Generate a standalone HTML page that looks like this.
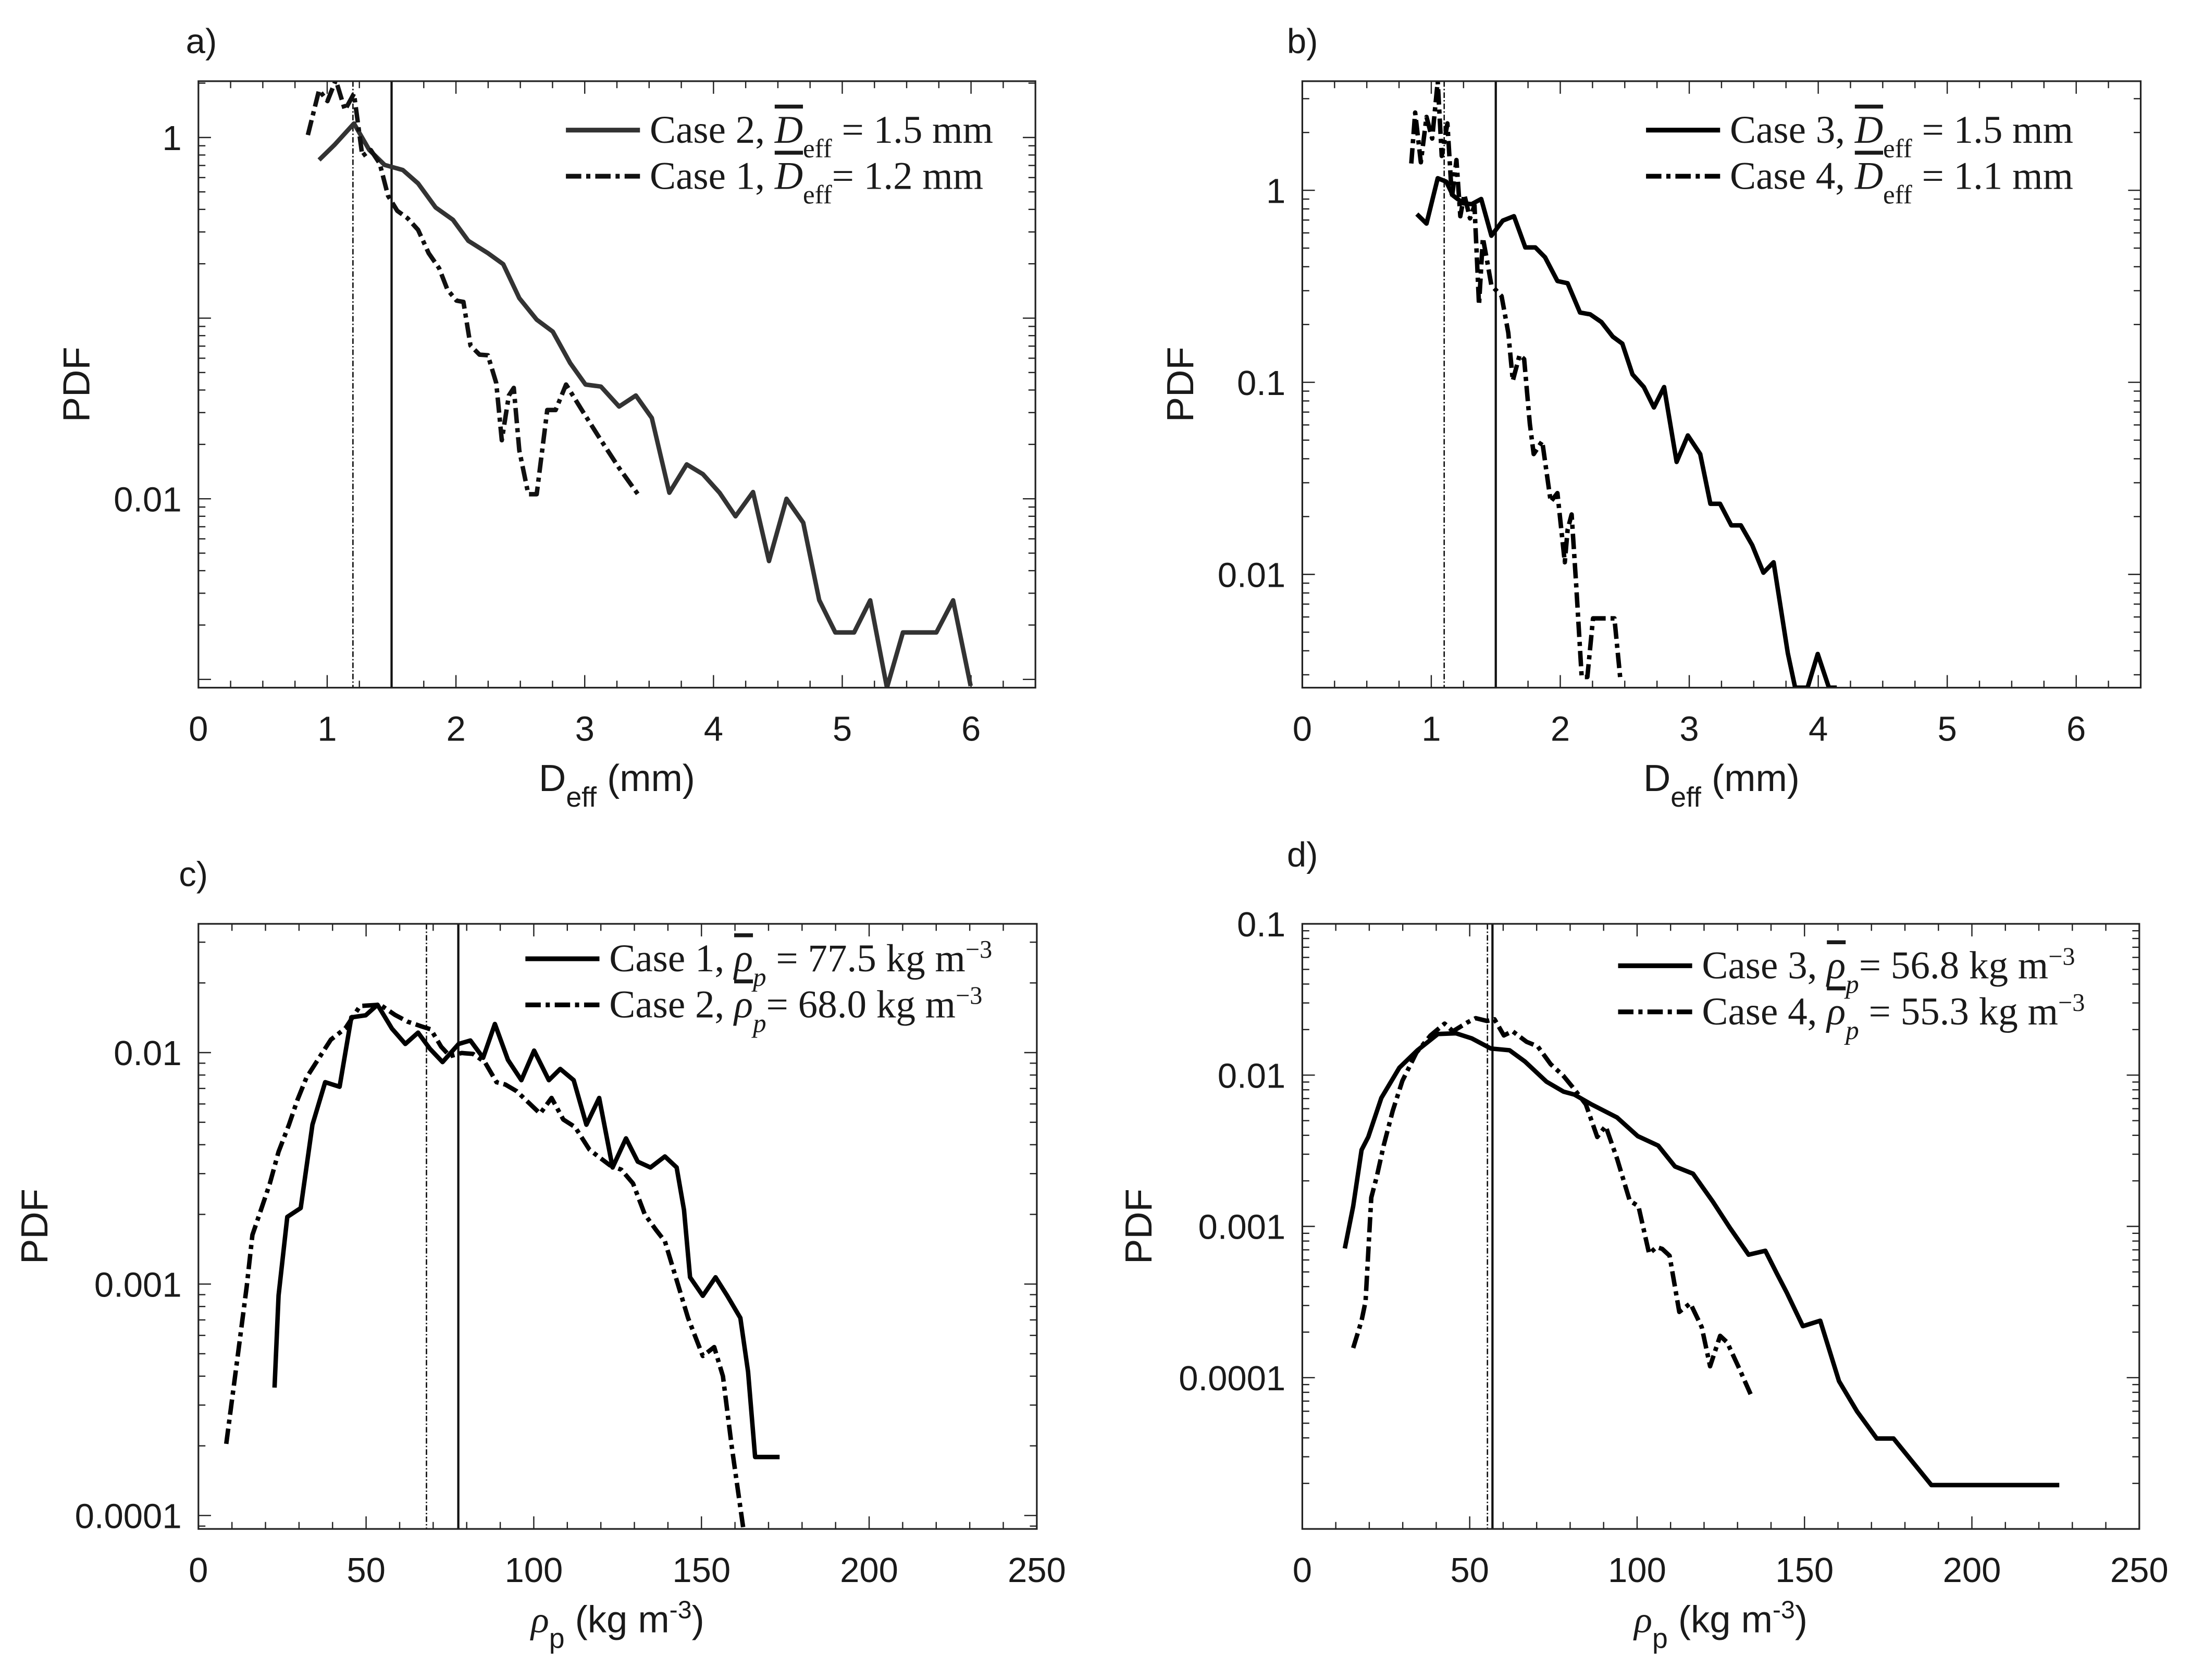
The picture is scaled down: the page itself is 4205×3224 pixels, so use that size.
<!DOCTYPE html>
<html><head><meta charset="utf-8"><style>
html,body{margin:0;padding:0;background:#fff;}
svg{display:block;}
text{font-family:"Liberation Sans",sans-serif;fill:#1a1a1a;}
.serif{font-family:"Liberation Serif",serif;}
</style></head><body>
<svg id="fig" xmlns="http://www.w3.org/2000/svg" width="4205" height="3224" viewBox="0 0 1568 1202">
<rect x="0" y="0" width="1568" height="1202" fill="#fff"/>
</svg>
<script>
// ---------- Panel a data (D_eff mm, PDF) ----------
const aCase2X = [0.937,1.056,1.208,1.327,1.446,1.587,1.706,1.842,1.977,2.096,2.248,2.367,2.492,2.627,2.752,2.887,3.006,3.126,3.267,3.397,3.521,3.657,3.792,3.917,4.047,4.171,4.307,4.431,4.567,4.697,4.821,4.946,5.092,5.217,5.347,5.471,5.607,5.731,5.861,5.997];
const aCase2Y = [0.751,0.909,1.195,0.853,0.705,0.661,0.557,0.41,0.35,0.268,0.229,0.199,0.129,0.0981,0.0842,0.0564,0.0429,0.0418,0.0324,0.0373,0.028,0.0108,0.0155,0.0137,0.0108,0.008,0.0109,0.00452,0.0100,0.00737,0.00275,0.00182,0.00182,0.00274,0.0009,0.00182,0.00182,0.00182,0.00274,0.00092];
const aCase1X = [0.850,0.937,1.002,1.067,1.138,1.208,1.273,1.338,1.408,1.473,1.544,1.625,1.706,1.788,1.869,1.934,2.004,2.058,2.113,2.183,2.248,2.313,2.356,2.411,2.449,2.492,2.562,2.627,2.709,2.774,2.855,2.979,3.115,3.267,3.413];
const aCase1Y = [1.032,1.83,1.59,2.08,1.419,1.75,0.79,0.853,0.718,0.475,0.393,0.357,0.308,0.229,0.189,0.1437,0.125,0.123,0.0705,0.0628,0.0623,0.0437,0.0211,0.0373,0.0411,0.0185,0.0106,0.0106,0.031,0.031,0.0429,0.0309,0.0217,0.0148,0.0106];
// ---------- Panel b data ----------
const bCase3X = [0.888,0.963,1.05,1.116,1.168,1.247,1.313,1.387,1.466,1.554,1.641,1.729,1.807,1.882,1.978,2.057,2.153,2.232,2.319,2.407,2.481,2.560,2.648,2.726,2.805,2.902,2.989,3.085,3.164,3.239,3.326,3.400,3.488,3.575,3.654,3.764,3.821,3.917,3.996,4.083,4.144];
const bCase3Y = [0.752,0.671,1.156,1.109,0.94,0.856,0.847,0.901,0.58,0.695,0.733,0.504,0.504,0.448,0.337,0.328,0.231,0.226,0.206,0.173,0.159,0.110,0.0945,0.074,0.0945,0.0385,0.0529,0.0423,0.0233,0.0233,0.018,0.018,0.0142,0.0102,0.01156,0.00389,0.00257,0.00257,0.00385,0.00257,0.00257];
const bCase4X = [0.845,0.875,0.919,0.963,1.007,1.05,1.081,1.125,1.160,1.195,1.225,1.256,1.300,1.335,1.370,1.400,1.431,1.466,1.545,1.597,1.632,1.685,1.720,1.764,1.794,1.860,1.926,1.978,2.035,2.057,2.088,2.123,2.166,2.210,2.254,2.420,2.464];
const bCase4Y = [1.379,2.54,1.40,2.41,1.86,3.70,1.51,2.23,0.911,1.438,0.733,0.95,0.714,0.834,0.253,0.565,0.436,0.32,0.281,0.181,0.102,0.139,0.132,0.0608,0.0423,0.0494,0.0239,0.0265,0.01156,0.0171,0.0205,0.0089,0.00292,0.00292,0.0059,0.0059,0.00292];
// ---------- Panel c data (rho_p kg m^-3, PDF) ----------
const cCase1X = [22.7,23.9,26.5,30.5,34.0,37.8,42.1,45.6,49.9,53.4,57.7,61.7,65.5,69.0,72.8,77.6,81.1,84.9,88.4,92.3,96.3,100.1,104.5,107.9,111.9,115.7,119.5,123.5,127.5,131.0,134.8,139.1,142.6,144.8,146.6,150.4,154.2,157.7,161.6,163.9,166.0,173.3];
const cCase1Y = [0.000357,0.000893,0.00195,0.00213,0.00488,0.00745,0.00712,0.0142,0.0145,0.0161,0.0127,0.0109,0.0122,0.0104,0.0091,0.0109,0.01128,0.0095,0.0133,0.0093,0.0076,0.0102,0.0076,0.0085,0.0076,0.00488,0.00637,0.00319,0.00426,0.00338,0.00319,0.00356,0.00319,0.00209,0.00107,0.00089,0.00107,0.00089,0.000714,0.000418,0.000179,0.000179];
const cCase2X = [8.3,11.8,14.4,16.1,18.4,21.3,23.9,27.0,29.5,32.2,36.0,39.5,43.8,48.2,54.2,58.6,62.4,66.4,69.3,72.4,75.0,78.5,81.9,85.4,88.9,91.5,94.9,98.4,101.9,105.3,108.8,112.3,116.6,119.2,122.7,126.1,129.6,133.1,136.5,139.1,142.6,146.0,150.4,153.8,156.4,159.0,162.5];
const cCase2Y = [0.000204,0.000499,0.000976,0.00163,0.00204,0.00272,0.00373,0.00488,0.00623,0.00779,0.0095,0.01138,0.01273,0.0159,0.0161,0.01456,0.0136,0.013,0.0126,0.0106,0.00965,0.00996,0.00987,0.0091,0.00745,0.00728,0.00681,0.00609,0.00545,0.00637,0.00514,0.00477,0.00381,0.00356,0.00326,0.00312,0.00272,0.002,0.00171,0.00153,0.00104,0.000714,0.000489,0.000534,0.0004,0.0002,0.0000875];
// ---------- Panel d data ----------
const dCase3X = [12.7,15.2,17.7,19.7,23.6,29.0,34.4,40.5,45.9,50.6,56.3,61.9,66.5,72.9,78.0,81.3,86.4,94.0,100.2,106.3,111.3,116.7,122.6,127.7,133.3,138.3,141.7,144.7,149.5,154.7,160.3,165.7,171.6,176.6,187.9,226.1];
const dCase3Y = [0.000715,0.00136,0.0032,0.0039,0.00706,0.0112,0.0146,0.0187,0.0189,0.0175,0.015,0.0146,0.0123,0.00906,0.00778,0.00743,0.0064,0.00525,0.00395,0.00342,0.00249,0.00223,0.00146,0.00098,0.00065,0.00069,0.00049,0.000365,0.000219,0.000238,0.0000949,0.0000598,0.0000396,0.0000396,0.0000195,0.0000195];
const dCase4X = [15.2,17.7,18.9,20.6,22.3,24.3,27.0,29.9,34.1,38.3,42.5,45.0,49.3,51.8,55.2,57.4,60.2,62.8,67.0,70.3,74.2,77.9,81.3,84.7,88.1,90.6,94.0,97.8,100.4,103.6,105.8,107.5,109.7,112.6,115.9,119.3,121.8,124.8,126.9,130.2,133.9];
const dCase4Y = [0.000157,0.000238,0.00032,0.00155,0.00216,0.00342,0.0058,0.00918,0.0141,0.0183,0.0219,0.0195,0.0223,0.0238,0.0228,0.0234,0.0183,0.0195,0.0166,0.0155,0.0118,0.00994,0.00805,0.0064,0.0039,0.0046,0.00281,0.00148,0.00136,0.00066,0.00073,0.00071,0.00064,0.000272,0.00031,0.000216,0.000119,0.000189,0.000171,0.000119,0.0000778];
// ---------- tick labels ----------
const xTicksD = [0,1,2,3,4,5,6];
const xTicksRho = [0,50,100,150,200,250];
const yTicksA = [1,0.01];
const yTicksB = [1,0.1,0.01];
const yTicksC = [0.01,0.001,0.0001];
const yTicksD = [0.1,0.01,0.001,0.0001];
const vlinesA = [1.2,1.5];
const vlinesB = [1.1,1.5];
const vlinesC = [68.0,77.5];
const vlinesD = [55.3,56.8];

const NS='http://www.w3.org/2000/svg';
const svg=document.getElementById('fig');
function mk(tag,attrs,parent){const e=document.createElementNS(NS,tag);for(const k in attrs)e.setAttribute(k,attrs[k]);(parent||svg).appendChild(e);return e;}

function panel(cfg){
  const g=mk('g',{});
  
  
  const L=cfg.box[0],T=cfg.box[1],R=cfg.box[2],B=cfg.box[3];
  const sx=v=>L+(v-cfg.xlim[0])/(cfg.xlim[1]-cfg.xlim[0])*(R-L);
  const ly0=Math.log10(cfg.ylim[0]),ly1=Math.log10(cfg.ylim[1]);
  const sy=v=>B-(Math.log10(v)-ly0)/(ly1-ly0)*(B-T);
  const cid='clip-'+cfg.name;
  const cp=mk('clipPath',{id:cid},g);mk('rect',{x:L,y:T,width:R-L,height:B-T},cp);
  for(let v=cfg.xlim[0];v<=cfg.xlim[1]+1e-9;v+=cfg.xminor){
    const major=Math.abs(v/cfg.xmajor-Math.round(v/cfg.xmajor))<1e-6;
    const len=major?9:5,x=sx(v);
    mk('line',{x1:x,y1:B,x2:x,y2:B-len,stroke:'#222','stroke-width':0.9},g);
    mk('line',{x1:x,y1:T,x2:x,y2:T+len,stroke:'#222','stroke-width':0.9},g);
  }
  cfg.xticks.forEach(v=>{const t=mk('text',{x:sx(v),y:B+38,'text-anchor':'middle','font-size':25},g);t.textContent=String(v);
    
    });
  for(let e=Math.floor(ly0);e<=Math.ceil(ly1);e++){
    for(let m=1;m<10;m++){const v=m*Math.pow(10,e);const lv=Math.log10(v);if(lv<ly0-1e-9||lv>ly1+1e-9)continue;
      const len=m===1?9:5,y=sy(v);
      mk('line',{x1:L,y1:y,x2:L+len,y2:y,stroke:'#222','stroke-width':0.9},g);
      mk('line',{x1:R,y1:y,x2:R-len,y2:y,stroke:'#222','stroke-width':0.9},g);}
  }
  cfg.yticks.forEach(v=>{const t=mk('text',{x:L-12,y:sy(v)+9,'text-anchor':'end','font-size':25},g);t.textContent=String(v);
    
    });
  cfg.vlines.forEach((v,i)=>{const l=mk('line',{x1:sx(v),y1:T,x2:sx(v),y2:B,stroke:'#111','stroke-width':i===0?1:1.6,'stroke-dasharray':i===0?'4,1.5,1,1.5':'none'},g);
    
    });
  cfg.series.forEach(s=>{
    const pts=s.x.map((xv,i)=>sx(xv).toFixed(2)+','+sy(s.y[i]).toFixed(2)).join(' ');
    const p=mk('polyline',{points:pts,fill:'none',stroke:s.color,'stroke-width':3.2,'stroke-linejoin':'round','stroke-dasharray':s.dash,'clip-path':'url(#'+cid+')'},g);
    
    
  });
  mk('rect',{x:L,y:T,width:R-L,height:B-T,fill:'none',stroke:'#222','stroke-width':1.2},g);
  cfg.legend.forEach((lg,i)=>{
    const y=cfg.legPos[1]+i*33;
    const l=mk('line',{x1:cfg.legPos[0],y1:y,x2:cfg.legPos[0]+53,y2:y,stroke:lg.color,'stroke-width':3.4,'stroke-dasharray':lg.dash},g);
    
    
    const t=mk('text',{x:cfg.legPos[0]+60,y:y+9,'font-size':28,class:'serif'},g);
    t.innerHTML=lg.html;
    
    
  });
  const xl=mk('text',{x:(L+R)/2,y:B+74,'text-anchor':'middle','font-size':27},g);xl.innerHTML=cfg.xlabel;
  
  
  const yl=mk('text',{x:0,y:0,'text-anchor':'middle','font-size':27,transform:'translate('+cfg.ylabX+','+((T+B)/2)+') rotate(-90)'},g);yl.textContent='PDF';
  
  
  const pl=mk('text',{x:cfg.tag[0],y:cfg.tag[1],'font-size':25},g);pl.textContent=cfg.tagText;
  
  
}
const DD='11,3.5,3,3.5';
const dlab='D<tspan baseline-shift="sub" font-size="20">eff</tspan> (mm)';
const rlab='<tspan font-family="Liberation Serif" font-style="italic">ρ</tspan><tspan baseline-shift="sub" font-size="20">p</tspan> (kg m<tspan baseline-shift="super" font-size="18">-3</tspan>)';
const dEff=(c,v,sp)=>'Case '+c+', <tspan font-style="italic" text-decoration="overline">D</tspan><tspan baseline-shift="sub" font-size="19">eff</tspan>'+(sp?' ':'')+'= '+v+' mm';
const rEff=(c,v,sp)=>'Case '+c+', <tspan font-style="italic" text-decoration="overline">ρ</tspan><tspan baseline-shift="sub" font-size="19" font-style="italic">p</tspan>'+(sp?' ':'')+'= '+v+' kg m<tspan baseline-shift="super" font-size="18">−3</tspan>';

panel({name:'panel-a',box:[142,58,741,492],xlim:[0,6.5],ylim:[0.0009,2.05],xmajor:1,xminor:0.25,xticks:xTicksD,yticks:yTicksA,vlines:vlinesA,
 series:[{name:'case2-line',x:aCase2X,y:aCase2Y,color:'#333',dash:'none'},{name:'case1-line',x:aCase1X,y:aCase1Y,color:'#111',dash:DD}],
 legend:[{color:'#333',dash:'none',html:dEff(2,'1.5',true)},{color:'#111',dash:DD,html:dEff(1,'1.2',false)}],legPos:[405,93],
 xlabel:dlab,ylabX:64,tag:[133,38],tagText:'a)'});
panel({name:'panel-b',box:[932,58,1532,492],xlim:[0,6.5],ylim:[0.00257,3.7],xmajor:1,xminor:0.25,xticks:xTicksD,yticks:yTicksB,vlines:vlinesB,
 series:[{name:'case3-line',x:bCase3X,y:bCase3Y,color:'#000',dash:'none'},{name:'case4-line',x:bCase4X,y:bCase4Y,color:'#000',dash:DD}],
 legend:[{color:'#000',dash:'none',html:dEff(3,'1.5',true)},{color:'#000',dash:DD,html:dEff(4,'1.1',true)}],legPos:[1178,93],
 xlabel:dlab,ylabX:854,tag:[921,38],tagText:'b)'});
panel({name:'panel-c',box:[142,661,742,1094],xlim:[0,250],ylim:[0.0000875,0.036],xmajor:50,xminor:10,xticks:xTicksRho,yticks:yTicksC,vlines:vlinesC,
 series:[{name:'case1-line',x:cCase1X,y:cCase1Y,color:'#000',dash:'none'},{name:'case2-line',x:cCase2X,y:cCase2Y,color:'#000',dash:DD}],
 legend:[{color:'#000',dash:'none',html:rEff(1,'77.5',true)},{color:'#000',dash:DD,html:rEff(2,'68.0',false)}],legPos:[376,686],
 xlabel:rlab,ylabX:34,tag:[128,634],tagText:'c)'});
panel({name:'panel-d',box:[932,661,1531,1094],xlim:[0,250],ylim:[0.00001,0.1],xmajor:50,xminor:10,xticks:xTicksRho,yticks:yTicksD,vlines:vlinesD,
 series:[{name:'case3-line',x:dCase3X,y:dCase3Y,color:'#000',dash:'none'},{name:'case4-line',x:dCase4X,y:dCase4Y,color:'#000',dash:DD}],
 legend:[{color:'#000',dash:'none',html:rEff(3,'56.8',false)},{color:'#000',dash:DD,html:rEff(4,'55.3',true)}],legPos:[1158,691],
 xlabel:rlab,ylabX:824,tag:[921,620],tagText:'d)'});
</script>
</body></html>
